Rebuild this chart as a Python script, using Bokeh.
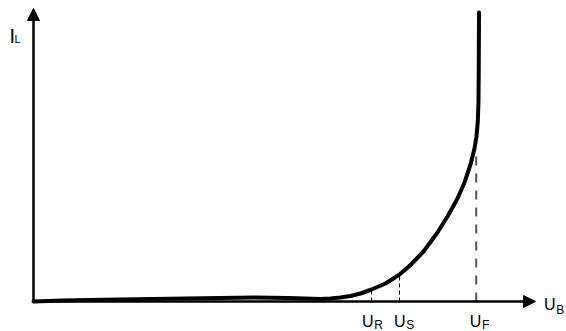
from bokeh.plotting import figure
from bokeh.models import Range1d, Arrow, NormalHead, Label
from bokeh.embed import file_html
from bokeh.resources import INLINE

# Characteristic curve I_L(U_B) (arbitrary units)
u_curve = [0, 30, 70, 120, 170, 220, 255, 287, 297, 307, 317, 327, 338, 352, 366, 377,
           390, 404, 414, 424, 431, 437, 441, 443, 444.3, 445, 445.3, 445.5]
i_curve = [0, 1, 1.8, 2.6, 3.3, 4.0, 3.6, 2.6, 3.0, 4.0, 5.5, 8.0, 12, 18, 27, 36.5,
           50, 69, 85, 103, 119, 137, 153, 165, 180, 200, 240, 289]

# Marked voltages and the height of their dashed guide lines
mark_names = ["R", "S", "F"]
mark_u = [338, 366, 442.7]
mark_top = [12.5, 27, 146]

# Axis extents
axis_u_max = 502
axis_i_max = 293

p = figure(width=566, height=331, x_range=Range1d(-33, 533), y_range=Range1d(-30, 301),
           output_backend="svg", toolbar_location=None, min_border=0)
p.axis.visible = False
p.grid.visible = False
p.outline_line_color = None
p.background_fill_color = "white"

# axes as arrows
p.add_layout(Arrow(end=NormalHead(size=12, line_color="black", fill_color="black", line_width=1),
                   x_start=0, y_start=0, x_end=axis_u_max, y_end=0,
                   line_color="black", line_width=2.5))
p.add_layout(Arrow(end=NormalHead(size=12, line_color="black", fill_color="black", line_width=1),
                   x_start=0, y_start=0, x_end=0, y_end=axis_i_max,
                   line_color="black", line_width=2.5))

# dashed guides
p.segment(x0=mark_u[:2], y0=[0, 0], x1=mark_u[:2], y1=mark_top[:2],
          line_color="black", line_width=1, line_dash="4 3")
p.segment(x0=[mark_u[2]], y0=[0], x1=[mark_u[2]], y1=[mark_top[2]],
          line_color="#555555", line_width=2, line_dash="9 8")

# curve
p.line(u_curve, i_curve, line_color="black", line_width=4, line_join="round", line_cap="round")

font = "Liberation Sans"
def sub_label(x, y, main, sub, size_main, size_sub, dx, dy):
    p.add_layout(Label(x=x, y=y, text=main, text_font=font, text_font_size=f"{size_main}px",
                       text_baseline="alphabetic", text_color="black"))
    p.add_layout(Label(x=x + dx, y=y - dy, text=sub, text_font=font, text_font_size=f"{size_sub}px",
                       text_baseline="alphabetic", text_color="black"))

# axis names
sub_label(-24, 266, "I", "L", 20, 11, 5, 3.6)
sub_label(510.5, -2.5, "U", "B", 16, 12, 12.3, 6)

# marked voltage labels
offsets = [-9.5, -5.5, -6.5]
for name, u, off in zip(mark_names, mark_u, offsets):
    sub_label(u + off, -19.5, "U", name, 16, 12, 12.2, 4.2)

open("out.html", "w").write(file_html(p, INLINE))
